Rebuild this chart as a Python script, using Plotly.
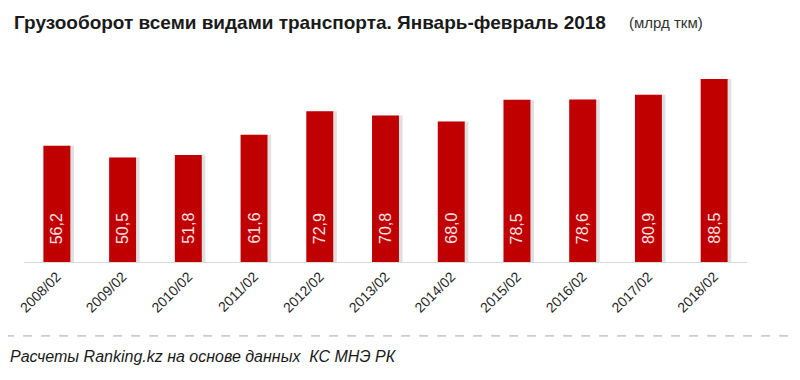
import plotly.graph_objects as go

categories = ["2008/02", "2009/02", "2010/02", "2011/02", "2012/02", "2013/02",
              "2014/02", "2015/02", "2016/02", "2017/02", "2018/02"]
values = [56.2, 50.5, 51.8, 61.6, 72.9, 70.8, 68.0, 78.5, 78.6, 80.9, 88.5]
labels = [f"{v:.1f}".replace(".", ",") for v in values]

title_main = "Грузооборот всеми видами транспорта. Январь-февраль 2018"
title_unit = "(млрд ткм)"
source = "Расчеты Ranking.kz на основе данных  КС МНЭ РК"

xs = list(range(len(categories)))

fig = go.Figure()
# soft shadow behind the bars
fig.add_trace(go.Bar(
    x=xs, y=values,
    width=0.41, offset=-0.205 + 0.055,
    marker=dict(color="rgba(0,0,0,0.12)", line=dict(width=0)),
    hoverinfo="skip", showlegend=False,
))
fig.add_trace(go.Bar(
    x=xs, y=values,
    width=0.41, offset=-0.205,
    marker=dict(color="#C00000", line=dict(width=0)),
    showlegend=False,
))

annotations = []
for xi, lab in zip(xs, labels):
    annotations.append(dict(
        x=xi, y=0, xref="x", yref="y", text=lab, showarrow=False,
        textangle=-90, xanchor="center", yanchor="bottom", yshift=16,
        font=dict(family="Liberation Sans, Arial, sans-serif", size=16, color="#FBE3E3"),
    ))

annotations += [
    dict(xref="paper", yref="paper", x=-0.017, y=1.188, xanchor="left", yanchor="middle",
         text=f"<b>{title_main}</b>", showarrow=False,
         font=dict(family="Liberation Sans Narrow, Liberation Sans, Arial", size=19, color="#1a1a1a")),
    dict(xref="paper", yref="paper", x=0.834, y=1.188, xanchor="left", yanchor="middle",
         text=title_unit, showarrow=False,
         font=dict(family="Liberation Sans Narrow, Liberation Sans, Arial", size=15, color="#333333")),
    dict(xref="paper", yref="paper", x=-0.022, y=-0.47, xanchor="left", yanchor="middle",
         text=f"<i>{source}</i>", showarrow=False,
         font=dict(family="Liberation Sans, Arial, sans-serif", size=16, color="#1a1a1a")),
]

fig.update_layout(
    width=792, height=372,
    margin=dict(l=16, r=53, t=52, b=118, autoexpand=False),
    paper_bgcolor="white", plot_bgcolor="white",
    barmode="overlay",
    xaxis=dict(
        tickmode="array", tickvals=xs, ticktext=categories,
        range=[-0.5, len(categories) - 0.5],
        tickangle=-45, showgrid=False, zeroline=False,
        showline=True, linecolor="#D9D9D9", linewidth=1, ticks="",
        tickfont=dict(family="Liberation Sans, Arial, sans-serif", size=14, color="#262626"),
    ),
    yaxis=dict(range=[0, 97.7], visible=False, showgrid=False, zeroline=False),
    annotations=annotations,
    shapes=[
        dict(type="line", xref="paper", yref="paper", x0=-0.026, x1=1.066, y0=-0.366, y1=-0.366,
             line=dict(color="#A6A6A6", width=1, dash="dash")),
    ],
)

fig.write_html("out.html")
